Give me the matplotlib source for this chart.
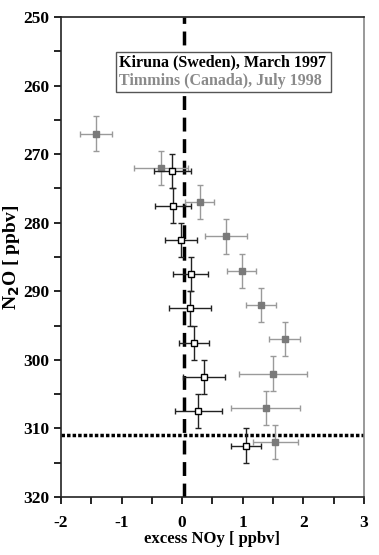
import matplotlib
matplotlib.use("Agg")
import matplotlib.pyplot as plt
from matplotlib.patches import Rectangle
from matplotlib.ticker import MultipleLocator

# Kiruna (Sweden), March 1997
kir_x = [-0.16, -0.15, -0.02, 0.14, 0.13, 0.20, 0.36, 0.27, 1.05]
kir_y = [272.5, 277.5, 282.5, 287.5, 292.5, 297.5, 302.5, 307.5, 312.5]
kir_xerr = [0.31, 0.30, 0.27, 0.29, 0.35, 0.25, 0.34, 0.39, 0.25]
kir_yerr = [2.5] * 9

# Timmins (Canada), July 1998
tim_x = [-1.42, -0.35, 0.29, 0.72, 0.98, 1.30, 1.69, 1.50, 1.38, 1.54]
tim_y = [267.0, 272.0, 277.0, 282.0, 287.0, 292.0, 297.0, 302.0, 307.0, 312.0]
tim_xerr = [0.27, 0.45, 0.24, 0.35, 0.245, 0.245, 0.25, 0.56, 0.57, 0.375]
tim_yerr = [2.5] * 10

zero_line_x = 0.03
tropopause_y = 311.0

plt.rcParams['font.family'] = ['Liberation Serif', 'DejaVu Serif']
plt.rcParams['font.weight'] = 'bold'
plt.rcParams['axes.unicode_minus'] = False

fig = plt.figure(figsize=(3.79, 5.55), dpi=100)
ax = fig.add_axes([0.161, 0.1045, 0.799, 0.8649])

ax.axvline(zero_line_x, color='black', lw=2.5, ls=(0, (4, 2.2)), zorder=1)
ax.axhline(tropopause_y, color='black', lw=2.5, ls=(0, (1, 0.6)), zorder=1)

ax.errorbar(tim_x, tim_y, xerr=tim_xerr, yerr=tim_yerr, fmt='s', ms=4.6,
            mfc='#7a7a7a', mec='#7a7a7a', ecolor='#9a9a9a', elinewidth=1.0,
            capsize=2.3, capthick=1.0, zorder=3)
ax.errorbar(kir_x, kir_y, xerr=kir_xerr, yerr=kir_yerr, fmt='s', ms=4.4,
            mfc='white', mec='black', mew=1.0, ecolor='#222222', elinewidth=1.0,
            capsize=2.3, capthick=1.0, zorder=4)

ax.set_xlim(-2, 3)
ax.set_ylim(320, 250)
ax.xaxis.set_major_locator(MultipleLocator(1))
ax.xaxis.set_minor_locator(MultipleLocator(0.5))
ax.yaxis.set_major_locator(MultipleLocator(10))
ax.yaxis.set_minor_locator(MultipleLocator(5))
ax.tick_params(which='both', direction='out', width=1.2, top=False, right=False)
ax.tick_params(which='major', length=5, labelsize=12.5)
ax.tick_params(which='minor', length=5)
ax.tick_params(axis='x', pad=8)
for s in ['left', 'bottom', 'top']:
    ax.spines[s].set_linewidth(1.2)
    ax.spines[s].set_color('#222222')
ax.spines['right'].set_color('#888888')
ax.spines['right'].set_linewidth(1.2)
for lab in ax.get_xticklabels() + ax.get_yticklabels():
    lab.set_fontweight('bold')

ax.set_xlabel('excess NOy [ ppbv]', fontsize=12, fontweight='bold', labelpad=0)
ax.set_ylabel('N$_\\mathbf{2}$O [ ppbv]', fontsize=14, fontweight='bold', labelpad=1)

ax.add_patch(Rectangle((0.1815, 0.844), 0.7095, 0.083, transform=ax.transAxes,
                       fill=True, facecolor='white', edgecolor='#555555', lw=1.0, zorder=5))
ax.text(0.19, 0.905, 'Kiruna (Sweden), March 1997', transform=ax.transAxes,
        fontsize=11.5, fontweight='bold', color='black', va='center', ha='left', zorder=6)
ax.text(0.19, 0.866, 'Timmins (Canada), July 1998', transform=ax.transAxes,
        fontsize=11.5, fontweight='bold', color='#8a8a8a', va='center', ha='left', zorder=6)

fig.savefig('out.png', dpi=100)
